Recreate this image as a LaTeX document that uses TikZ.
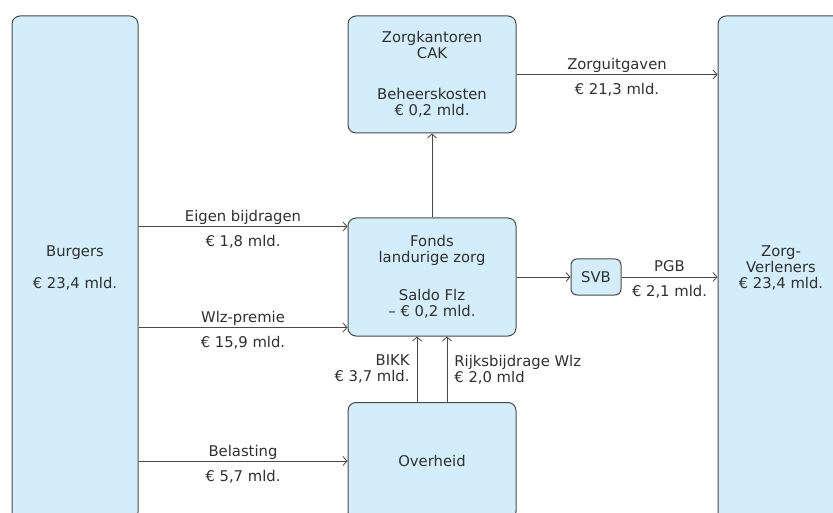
\documentclass[tikz,border=0pt]{standalone}
\usepackage{fontspec}
\setmainfont{DejaVu Sans}
\usetikzlibrary{arrows.meta}
\definecolor{boxfill}{HTML}{D3EEFA}
\definecolor{boxline}{HTML}{4A4A4A}
\definecolor{ink}{HTML}{303030}

\tikzstyle{party}=[draw=boxline,fill=boxfill,line width=1pt,rounded corners=8pt,text=ink,align=center,inner sep=0pt]
\tikzstyle{flow}=[draw=boxline,line width=0.8pt,-{Straight Barb[length=4pt,width=9pt]}]
\tikzstyle{toplabel}=[anchor=base,yshift=5pt,text=ink]
\tikzstyle{botlabel}=[anchor=base,yshift=-20pt,text=ink]

\begin{document}
\begin{tikzpicture}[x=1pt,y=-1pt,font=\fontsize{14.8}{16}\selectfont]

   \clip (0,0) rectangle (833,513);

   % the two long columns run off the page
   \node[party,minimum width=126pt,minimum height=504pt] (burgers) at (75,268)
      {Burgers\\[16pt]€ 23,4 mld.};
   \node[party,minimum width=126pt,minimum height=504pt] (verleners) at (781,268)
      {Zorg-\\Verleners\\€ 23,4 mld.};

   \node[party,minimum width=168pt,minimum height=117pt] (cak) at (432,74.5)
      {Zorgkantoren\\CAK\\[25pt]Beheerskosten\\€ 0,2 mld.};
   \node[party,minimum width=168pt,minimum height=118pt] (fonds) at (432,277)
      {Fonds\\landurige zorg\\[22pt]Saldo Flz\\– € 0,2 mld.};
   \node[party,minimum width=168pt,minimum height=117pt] (overheid) at (432,461)
      {Overheid};
   \node[party,rounded corners=6pt,minimum width=50pt,minimum height=36pt] (svb) at (596,277)
      {SVB};

   \coordinate (eb) at ([yshift=-9pt]fonds.north west);
   \coordinate (wp) at ([yshift=9pt]fonds.south west);

   \draw[flow] (eb -| burgers.east) -- (eb)
      node[midway,toplabel] {Eigen bijdragen} node[midway,botlabel] {€ 1,8 mld.};
   \draw[flow] (wp -| burgers.east) -- (wp)
      node[midway,toplabel] {Wlz-premie} node[midway,botlabel] {€ 15,9 mld.};
   \draw[flow] (overheid.west -| burgers.east) -- (overheid.west)
      node[midway,toplabel] {Belasting} node[midway,botlabel] {€ 5,7 mld.};

   \draw[flow] (cak.east) -- (cak.east -| verleners.west)
      node[midway,toplabel] {Zorguitgaven} node[midway,botlabel] {€ 21,3 mld.};
   \draw[flow] (fonds.north) -- (cak.south);
   \draw[flow] (fonds.east) -- (svb.west);
   \draw[flow] (svb.east) -- (svb.east -| verleners.west)
      node[midway,toplabel] {PGB} node[midway,botlabel] {€ 2,1 mld.};

   \draw[flow] ([xshift=-15pt]overheid.north) -- ([xshift=-15pt]fonds.south)
      node[midway,anchor=east,align=right,inner sep=0pt,xshift=-7pt,text=ink] {BIKK\\€ 3,7 mld.};
   \draw[flow] ([xshift=15pt]overheid.north) -- ([xshift=15pt]fonds.south)
      node[midway,anchor=west,align=left,inner sep=0pt,xshift=7pt,text=ink] {Rijksbijdrage Wlz\\€ 2,0 mld};

\end{tikzpicture}
\end{document}
